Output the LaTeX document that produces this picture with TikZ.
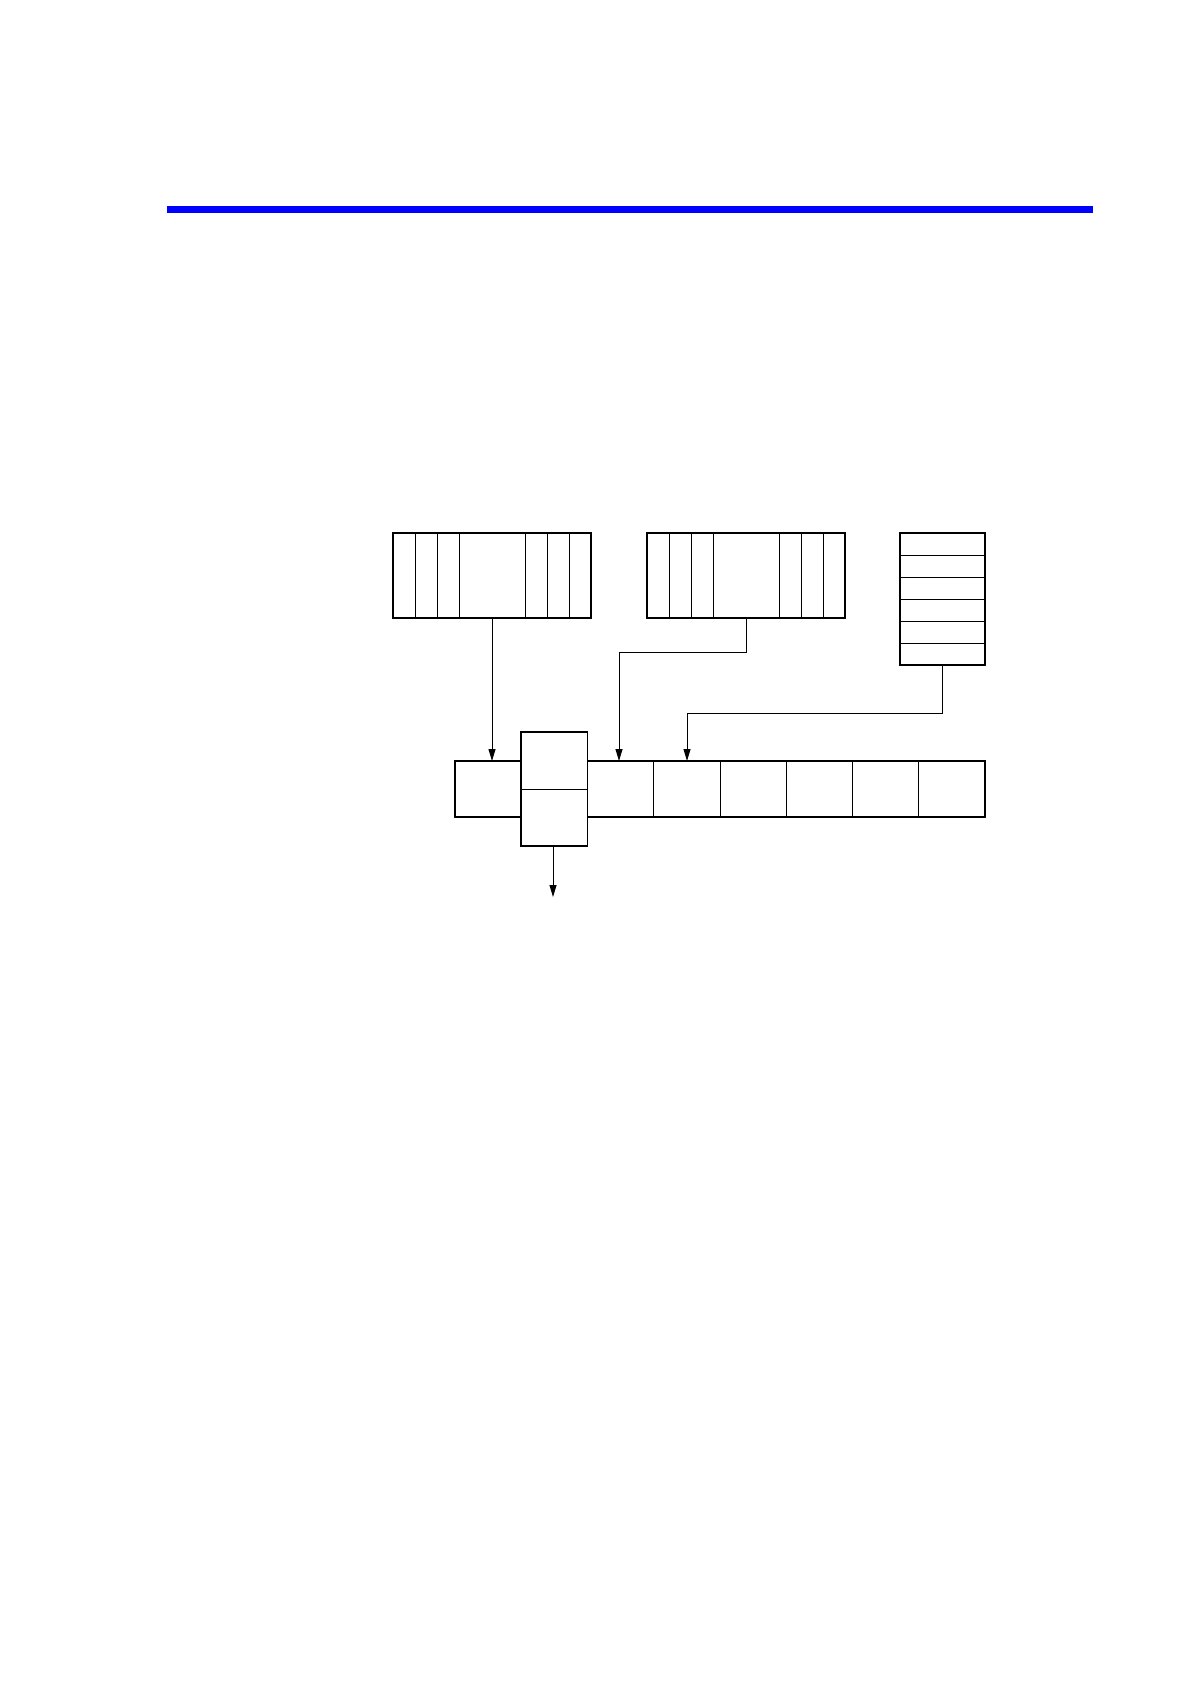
\documentclass[tikz,border=0pt]{standalone}
\usetikzlibrary{arrows.meta}
\begin{document}
\begin{tikzpicture}[x = 0.5pt, y = -0.5pt,
        box/.style = {rectangle, draw = black, line width = 0.85pt, inner sep = 0pt, outer sep = 0pt, anchor = north west, fill = white},
        sep/.style = {line width = 0.5pt},
        link/.style = {line width = 0.5pt, -{Triangle[length = 6pt, width = 3.5pt]}}]
    \useasboundingbox (0,0) rectangle (1190,1684);
    \fill[blue] (167,206) rectangle (1093,213);
    \node [box, minimum width = 99pt, minimum height = 42.5pt] (A) at (393,533) {};
    \node [box, minimum width = 99pt, minimum height = 42.5pt] (B) at (647,533) {};
    \node [box, minimum width = 42.5pt, minimum height = 66pt] (C) at (900,533) {};
    \node [box, minimum width = 265pt, minimum height = 28pt] (row) at (455,761) {};
    \node [box, minimum width = 33.125pt, minimum height = 57pt] (tos) at (521.25,732) {};
    \foreach \k in {1,2,3,6,7,8} {
        \draw[sep] ([xshift = \k*11pt]A.north west) -- ([xshift = \k*11pt]A.south west);
        \draw[sep] ([xshift = \k*11pt]B.north west) -- ([xshift = \k*11pt]B.south west);
    }
    \foreach \k in {1,...,5}
        \draw[sep] ([yshift = -\k*11pt]C.north west) -- ([yshift = -\k*11pt]C.north east);
    \foreach \k in {3,...,7}
        \draw[sep] ([xshift = \k*33.125pt]row.north west) -- ([xshift = \k*33.125pt]row.south west);
    \draw[sep] (tos.west) -- (tos.east);
    \coordinate (bendB) at (619,652);
    \coordinate (bendC) at (687,713);
    \coordinate (out) at (553,897);
    \draw[link] (A.south) -- (A.south |- row.north);
    \draw[link] (B.south) |- (bendB) -- (bendB |- row.north);
    \draw[link] (C.south) |- (bendC) -- (bendC |- row.north);
    \draw[link] (tos.south -| out) -- (out);
\end{tikzpicture}
\end{document}
